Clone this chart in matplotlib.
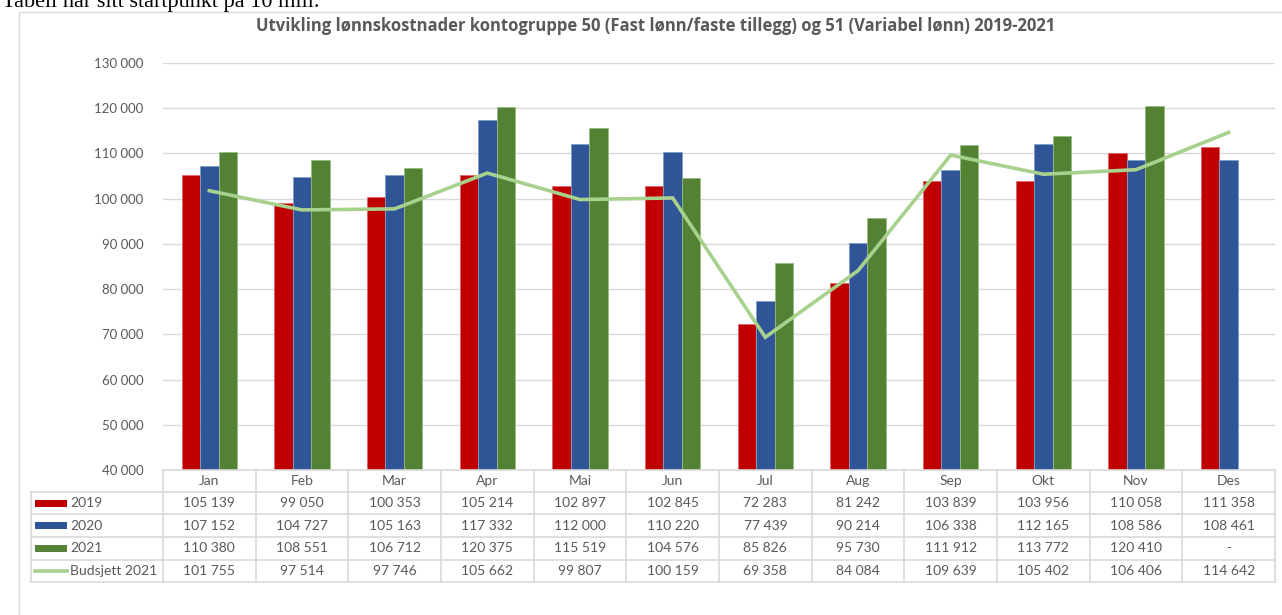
import numpy as np
import matplotlib.pyplot as plt
from matplotlib.lines import Line2D
from matplotlib.patches import Rectangle
from matplotlib.transforms import blended_transform_factory

months = ["Jan", "Feb", "Mar", "Apr", "Mai", "Jun", "Jul", "Aug", "Sep", "Okt", "Nov", "Des"]
v2019 = [105139, 99050, 100353, 105214, 102897, 102845, 72283, 81242, 103839, 103956, 110058, 111358]
v2020 = [107152, 104727, 105163, 117332, 112000, 110220, 77439, 90214, 106338, 112165, 108586, 108461]
v2021 = [110380, 108551, 106712, 120375, 115519, 104576, 85826, 95730, 111912, 113772, 120410, np.nan]
budsjett = [101755, 97514, 97746, 105662, 99807, 100159, 69358, 84084, 109639, 105402, 106406, 114642]
yticks = list(range(40000, 130001, 10000))

W, H = 1282, 615
plt.rcParams['font.family'] = ['Lato', 'DejaVu Sans']
grey = '#595959'
gridc = '#D9D9D9'

fig = plt.figure(figsize=(W / 100, H / 100), dpi=100)


def fx(px):
    return px / W


def fy(py):
    return 1 - py / H


# chart border
fig.add_artist(Rectangle((fx(19), fy(640)), fx(1300), 628 / H, transform=fig.transFigure,
                         fill=False, edgecolor=gridc, lw=1))
# document text above the chart, cut off by the top edge as in the source
fig.text(fx(2), fy(7.5), "Tabell har sitt startpunkt på 10 mill.", family='Liberation Serif',
         fontsize=16, color='black', va='baseline', ha='left')

ax = fig.add_axes([fx(163), fy(470), (1275 - 163) / W, (470 - 63) / H])
x = np.arange(len(months))
bw = 0.2
ax.bar(x - bw, v2019, bw, color='#C00000', edgecolor='#E06666', lw=0.6, zorder=2)
ax.bar(x, v2020, bw, color='#2F5597', edgecolor='#7F9CCB', lw=0.6, zorder=2)
ax.bar(x + bw, v2021, bw, color='#548235', edgecolor='#98BB80', lw=0.6, zorder=2)
ax.plot(x, budsjett, color='#A9D18E', lw=2.6, zorder=3, solid_joinstyle='miter')

ax.set_xlim(-0.5, 11.5)
ax.set_ylim(40000, 130000)
ax.set_yticks(yticks)
ax.set_yticklabels([f"{t:,}".replace(",", " ") for t in yticks], fontsize=9.5, color=grey)
ax.tick_params(axis='y', length=0, pad=14)
ax.set_xticks([])
ax.grid(axis='y', color=gridc, lw=1, zorder=0)
for s in ax.spines.values():
    s.set_visible(False)

fig.text(fx(656), fy(26), "Utvikling lønnskostnader kontogruppe 50 (Fast lønn/faste tillegg) og 51 (Variabel lønn) 2019-2021",
         ha='center', va='center', fontsize=12, fontweight='bold', color=grey, family='Open Sans')

# data table
bt = blended_transform_factory(ax.transData, fig.transFigure)
rows_y = [470, 492, 514, 537, 560, 582]
fig.add_artist(Line2D([fx(163), fx(1275)], [fy(470), fy(470)], transform=fig.transFigure, color=gridc, lw=1.2))
for ry in rows_y[1:]:
    fig.add_artist(Line2D([fx(31), fx(1275)], [fy(ry), fy(ry)], transform=fig.transFigure, color=gridc, lw=1.2))
for b in np.arange(-0.5, 12, 1.0):
    fig.add_artist(Line2D([b, b], [fy(470), fy(582)], transform=bt, color=gridc, lw=1.2))
fig.add_artist(Line2D([fx(31), fx(31)], [fy(492), fy(582)], transform=fig.transFigure, color=gridc, lw=1.2))

for i, m in enumerate(months):
    fig.text(i, fy(481), m, transform=bt, ha='center', va='center', fontsize=10, color=grey)

series = [("2019", v2019, '#C00000', 'bar'), ("2020", v2020, '#2F5597', 'bar'),
          ("2021", v2021, '#548235', 'bar'), ("Budsjett 2021", budsjett, '#A9D18E', 'line')]
for r, (name, vals, col, kind) in enumerate(series):
    cy = (rows_y[r + 1] + rows_y[r + 2]) / 2
    if kind == 'bar':
        fig.add_artist(Rectangle((fx(35), fy(cy + 3.5)), fx(32), 7 / H, transform=fig.transFigure,
                                 color=col, lw=0))
    else:
        fig.add_artist(Line2D([fx(35), fx(67)], [fy(cy), fy(cy)], transform=fig.transFigure,
                              color=col, lw=2.6))
    fig.text(fx(70), fy(cy), name, ha='left', va='center', fontsize=10, color=grey)
    for i, v in enumerate(vals):
        s = "-" if np.isnan(v) else f"{int(v):,}".replace(",", " ")
        fig.text(i, fy(cy), s, transform=bt, ha='center', va='center', fontsize=10, color=grey)

fig.savefig("out.png", dpi=100)
